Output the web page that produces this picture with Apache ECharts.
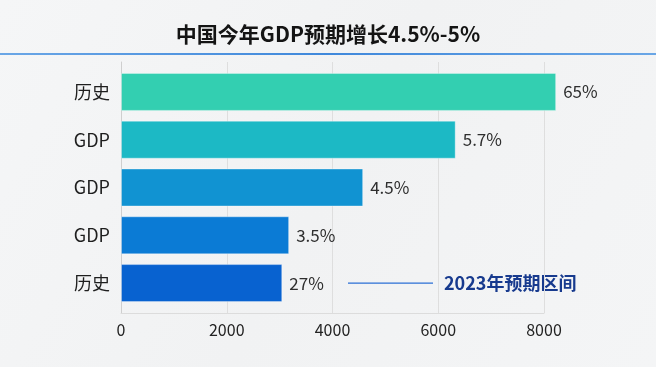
<!DOCTYPE html>
<html>
<head>
<meta charset="utf-8">
<script src="https://cdn.jsdelivr.net/npm/echarts@6/dist/echarts.min.js"></script>
<style>
html,body{margin:0;padding:0;background:#f3f4f5;}
#chart{width:656px;height:367px;}
</style>
</head>
<body>
<div id="chart"></div>
<script>
const titleText = '中国今年GDP预期增长4.5%-5%';
const categories = ['历史', 'GDP', 'GDP', 'GDP', '历史'];
const values = [8230, 6330, 4580, 3180, 3050];
const valueLabels = ['65%', '5.7%', '4.5%', '3.5%', '27%'];
const barColors = ['#33cfb1', '#1cb9c5', '#1193d2', '#0b7bd5', '#0862d0'];
const xTicks = [0, 2000, 4000, 6000, 8000];
const annotationText = '2023年预期区间';
const annotationIndex = 4;

const FONT = '"Noto Sans CJK SC", "Noto Sans", sans-serif';
const chart = echarts.init(document.getElementById('chart'));

const option = {
  backgroundColor: {
    type: 'linear', x: 0, y: 0, x2: 1, y2: 1,
    colorStops: [{offset: 0, color: '#f5f6f7'}, {offset: 0.5, color: '#f1f2f3'}, {offset: 1, color: '#f4f5f6'}]
  },
  textStyle: {fontFamily: FONT},
  title: {
    text: titleText, left: 'center', top: 19,
    textStyle: {fontSize: 21, fontWeight: 'bold', color: '#141414', fontFamily: FONT}
  },
  grid: [
    {left: 121, right: 112, top: 62, bottom: 54},
    {left: 121, right: 112, top: 68, bottom: 60}
  ],
  xAxis: [
    {
      gridIndex: 0, type: 'value', min: xTicks[0], max: xTicks[xTicks.length - 1], interval: 2000,
      axisLine: {show: true, lineStyle: {color: '#dcdcdc'}},
      axisTick: {show: false},
      splitLine: {show: true, lineStyle: {color: '#dedede'}},
      axisLabel: {margin: 9, fontSize: 16, color: '#222', fontFamily: FONT, formatter: v => String(v)}
    },
    {
      gridIndex: 1, type: 'value', min: xTicks[0], max: xTicks[xTicks.length - 1],
      show: false
    }
  ],
  yAxis: [
    {
      gridIndex: 0, type: 'value', min: 0, max: 1,
      axisLine: {show: true, lineStyle: {color: '#cfcfcf'}},
      axisTick: {show: false}, axisLabel: {show: false}, splitLine: {show: false}
    },
    {
      gridIndex: 1, type: 'category', data: categories, inverse: true,
      axisLine: {show: false}, axisTick: {show: false},
      axisLabel: {margin: 11, fontSize: 18, color: '#1e1e1e', fontFamily: FONT}
    }
  ],
  series: [{
    type: 'bar', xAxisIndex: 1, yAxisIndex: 1, clip: false, barWidth: 38,
    data: values.map((v, i) => ({
      value: v,
      itemStyle: {color: barColors[i], borderColor: 'rgba(255,255,255,0.35)', borderWidth: 1}
    })),
    label: {
      show: true, position: 'right', distance: 7, fontSize: 17, color: '#2e2e2e', fontFamily: FONT,
      formatter: p => valueLabels[p.dataIndex]
    }
  }],
  graphic: []
};
chart.setOption(option);

const yAnn = chart.convertToPixel({yAxisIndex: 1}, annotationIndex);
chart.setOption({
  graphic: [
    {
      type: 'rect', left: 0, top: 53, shape: {width: 656, height: 2},
      style: {fill: {type: 'linear', x: 0, y: 0, x2: 1, y2: 0,
        colorStops: [{offset: 0, color: '#6aa6e6'}, {offset: 0.5, color: '#3f88db'}, {offset: 1, color: '#6aa6e6'}]}}
    },
    {
      type: 'line', shape: {x1: 348, y1: yAnn, x2: 433, y2: yAnn},
      style: {stroke: '#2a6fd6', lineWidth: 1.2}
    },
    {
      type: 'text', x: 444, y: yAnn,
      style: {text: annotationText, fill: '#173a8e', font: 'bold 18px ' + FONT, textVerticalAlign: 'middle', verticalAlign: 'middle'}
    }
  ]
});
</script>
</body>
</html>
